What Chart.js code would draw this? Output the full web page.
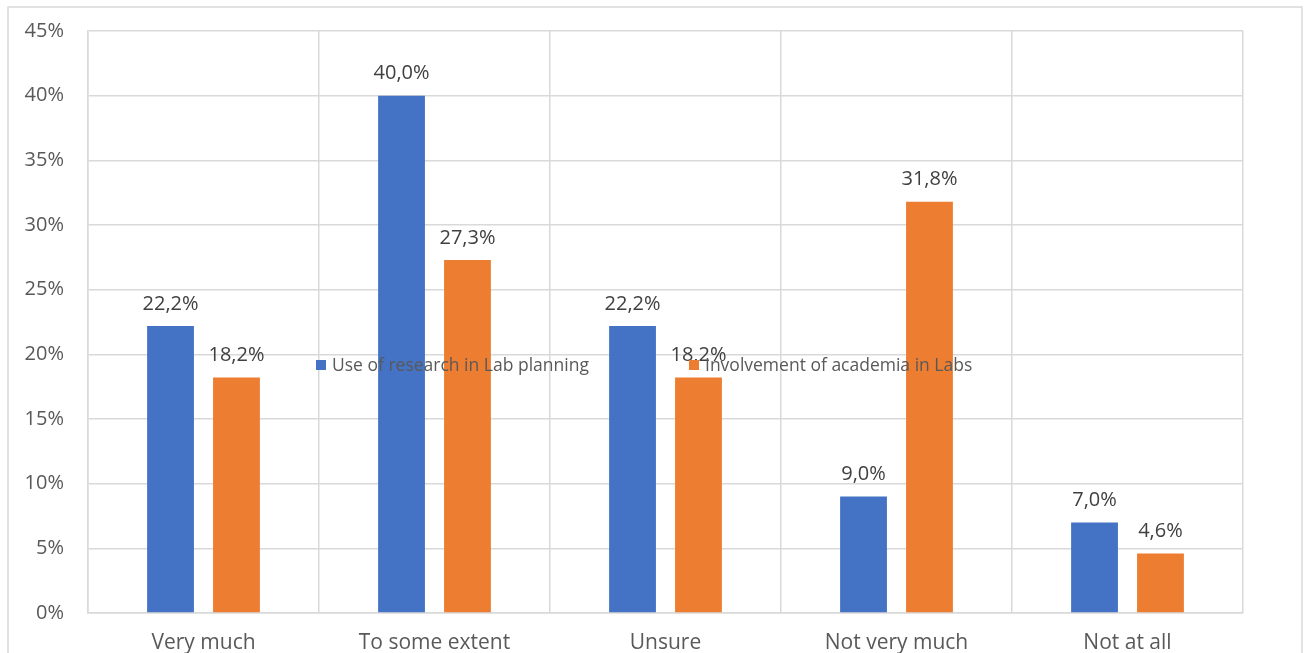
<!DOCTYPE html>
<html>
<head>
<meta charset="utf-8">
<script src="https://cdn.jsdelivr.net/npm/chart.js@4/dist/chart.umd.min.js"></script>
<style>
  html, body { margin: 0; padding: 0; background: #fff; }
  #wrap { width: 1306px; height: 653px; }
</style>
</head>
<body>
<div id="wrap"><canvas id="chart" width="1306" height="653"></canvas></div>
<script>
const categories = ['Very much', 'To some extent', 'Unsure', 'Not very much', 'Not at all'];
const researchValues = [22.2, 40.0, 22.2, 9.0, 7.0];
const academiaValues = [18.2, 27.3, 18.2, 31.8, 4.6];
const seriesNames = ['Use of research in Lab planning', 'Involvement of academia in Labs'];
const seriesColors = ['#4472C4', '#ED7D31'];

const FONT = "'Open Sans', sans-serif";

// frame round the whole chart
const framePlugin = {
    id: 'frame',
    beforeDraw(chart) {
        const ctx = chart.ctx;
        ctx.save();
        ctx.strokeStyle = '#D9D9D9';
        ctx.lineWidth = 1.5;
        ctx.strokeRect(8, 7, 1294, 700);
        ctx.restore();
    }
};

// value labels above bars
const valueLabels = {
    id: 'valueLabels',
    afterDatasetsDraw(chart) {
        const ctx = chart.ctx;
        ctx.save();
        ctx.font = '20px ' + FONT;
        ctx.fillStyle = '#404040';
        ctx.textAlign = 'center';
        ctx.textBaseline = 'bottom';
        chart.data.datasets.forEach((ds, i) => {
            chart.getDatasetMeta(i).data.forEach((bar, j) => {
                const txt = ds.data[j].toFixed(1).replace('.', ',') + '%';
                ctx.fillText(txt, bar.x, bar.y - 12);
            });
        });
        ctx.restore();
    }
};

// legend sits in the middle of the plot, drawn over the bars
const midLegend = {
    id: 'midLegend',
    afterDraw(chart) {
        const ctx = chart.ctx;
        const xs = [316, 689];
        const y = 365;
        ctx.save();
        ctx.font = '17.5px ' + FONT;
        ctx.textBaseline = 'middle';
        ctx.textAlign = 'left';
        chart.data.datasets.forEach((ds, i) => {
            ctx.fillStyle = ds.backgroundColor;
            ctx.fillRect(xs[i], y - 5, 10, 10);
            ctx.fillStyle = '#595959';
            ctx.fillText(ds.label, xs[i] + 16, y + 1);
        });
        ctx.restore();
    }
};

new Chart(document.getElementById('chart'), {
    type: 'bar',
    data: {
        labels: categories,
        datasets: [
            { label: seriesNames[0], data: researchValues, backgroundColor: seriesColors[0] },
            { label: seriesNames[1], data: academiaValues, backgroundColor: seriesColors[1] }
        ]
    },
    options: {
        responsive: false,
        animation: false,
        devicePixelRatio: 1,
        categoryPercentage: 0.571,
        barPercentage: 0.71,
        layout: { padding: { left: 0, top: 31, right: 63, bottom: 0 } },
        plugins: {
            legend: { display: false },
            tooltip: { enabled: false }
        },
        scales: {
            x: {
                afterFit(scale) { scale.height = 40; scale.paddingLeft = 0; scale.paddingRight = 0; },
                grid: { color: '#D9D9D9', lineWidth: 1.5, drawTicks: false, offset: true },
                border: { color: '#D9D9D9', width: 1.5 },
                ticks: { color: '#595959', font: { family: FONT, size: 21 }, padding: 17 }
            },
            y: {
                min: 0,
                max: 45,
                afterFit(scale) { scale.width = 88; scale.paddingTop = 0; scale.paddingBottom = 0; },
                grid: { color: '#D9D9D9', lineWidth: 1.5, drawTicks: false },
                border: { color: '#D9D9D9', width: 1.5 },
                ticks: {
                    stepSize: 5,
                    color: '#595959',
                    font: { family: FONT, size: 20 },
                    padding: 24,
                    callback: v => v + '%'
                }
            }
        }
    },
    plugins: [framePlugin, valueLabels, midLegend]
});
</script>
</body>
</html>
